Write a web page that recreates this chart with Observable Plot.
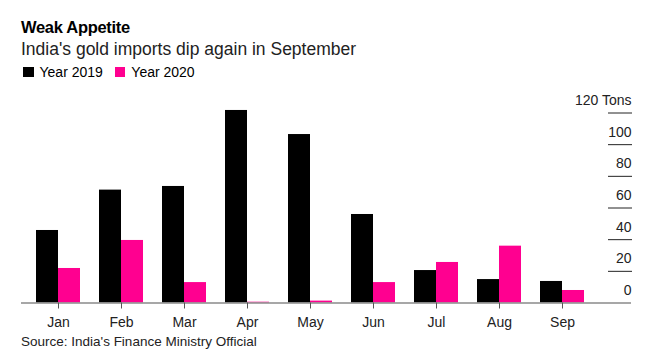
<!DOCTYPE html>
<html>
<head>
<meta charset="utf-8">
<script src="https://cdn.jsdelivr.net/npm/d3@7"></script>
<script src="https://cdn.jsdelivr.net/npm/@observablehq/plot@0.6"></script>
<style>
  html, body { margin: 0; padding: 0; background: #fff; }
  body { width: 654px; height: 361px; overflow: hidden; position: relative; font-family: "Liberation Sans", Arial, sans-serif; color: #000; }
  .abs { position: absolute; left: 21px; line-height: 1; white-space: nowrap; }
  #title { top: 19px; font-size: 16.5px; font-weight: bold; letter-spacing: -0.3px; }
  #subtitle { top: 40.5px; font-size: 17.5px; color: #222; }
  #legend { top: 65px; font-size: 14px; display: flex; align-items: center; left: 23px; }
  #legend .item { display: flex; align-items: center; margin-right: 12px; }
  #legend .sw { width: 10.5px; height: 10.5px; margin-right: 6px; }
  #chart { position: absolute; left: 0; top: 84px; }
  #source { top: 335px; font-size: 13.5px; color: #222; }
</style>
</head>
<body>
<div id="title" class="abs">Weak Appetite</div>
<div id="subtitle" class="abs">India's gold imports dip again in September</div>
<div id="legend" class="abs"></div>
<div id="chart"></div>
<div id="source" class="abs">Source: India's Finance Ministry Official</div>
<script>
const months = ["Jan", "Feb", "Mar", "Apr", "May", "Jun", "Jul", "Aug", "Sep"];
const tons2019 = [45.8, 71.3, 73.6, 121.6, 106.4, 55.9, 20.5, 14.8, 13.6];
const tons2020 = [21.8, 39.5, 12.9, 0.5, 1.2, 12.9, 25.6, 35.9, 7.9];
const seriesNames = ["Year 2019", "Year 2020"];
const seriesColors = ["#000000", "#ff0090"];
const yTicks = [0, 20, 40, 60, 80, 100, 120];
const yUnit = "Tons";

// legend
const legend = document.getElementById("legend");
seriesNames.forEach((name, i) => {
  const item = document.createElement("div");
  item.className = "item";
  const sw = document.createElement("div");
  sw.className = "sw";
  sw.style.background = seriesColors[i];
  const label = document.createElement("span");
  label.textContent = name;
  item.appendChild(sw);
  item.appendChild(label);
  legend.appendChild(item);
});

const rows2019 = months.map((m, i) => ({month: m, series: seriesNames[0], value: tons2019[i]}));
const rows2020 = months.map((m, i) => ({month: m, series: seriesNames[1], value: tons2020[i]}));

const chart = Plot.plot({
  width: 654,
  height: 250,
  marginLeft: 21,
  marginRight: 23,
  marginTop: 28.5,
  marginBottom: 31.5,
  style: {fontFamily: "'Liberation Sans', Arial, sans-serif", background: "transparent", overflow: "visible"},
  x: {domain: months, paddingInner: 0.3, paddingOuter: 0.49, align: 0.24},
  y: {domain: [0, 120]},
  color: {domain: seriesNames, range: seriesColors},
  marks: [
    Plot.barY(rows2019, {x: "month", y: "value", fill: "series", insetRight: 22}),
    Plot.barY(rows2020, {x: "month", y: "value", fill: "series", insetLeft: 22}),
    Plot.ruleY([0], {stroke: "#8a8a8a", strokeWidth: 1.5}),
    Plot.axisX({tickSize: 6, tickPadding: 8, stroke: "#555", fontSize: 14, color: "#222", label: null}),
    Plot.axisY(yTicks.filter(d => d > 0), {anchor: "right", tickSize: 24, dx: -24, stroke: "#222", tickFormat: () => "", label: null}),
    Plot.axisY(yTicks, {anchor: "right", tickSize: 0, tickPadding: 0, textAnchor: "end", dy: -12.5, fontSize: 14, color: "#222",
      tickFormat: d => d === 120 ? `${d} ${yUnit}` : `${d}`, label: null})
  ]
});
document.getElementById("chart").appendChild(chart);
</script>
</body>
</html>
